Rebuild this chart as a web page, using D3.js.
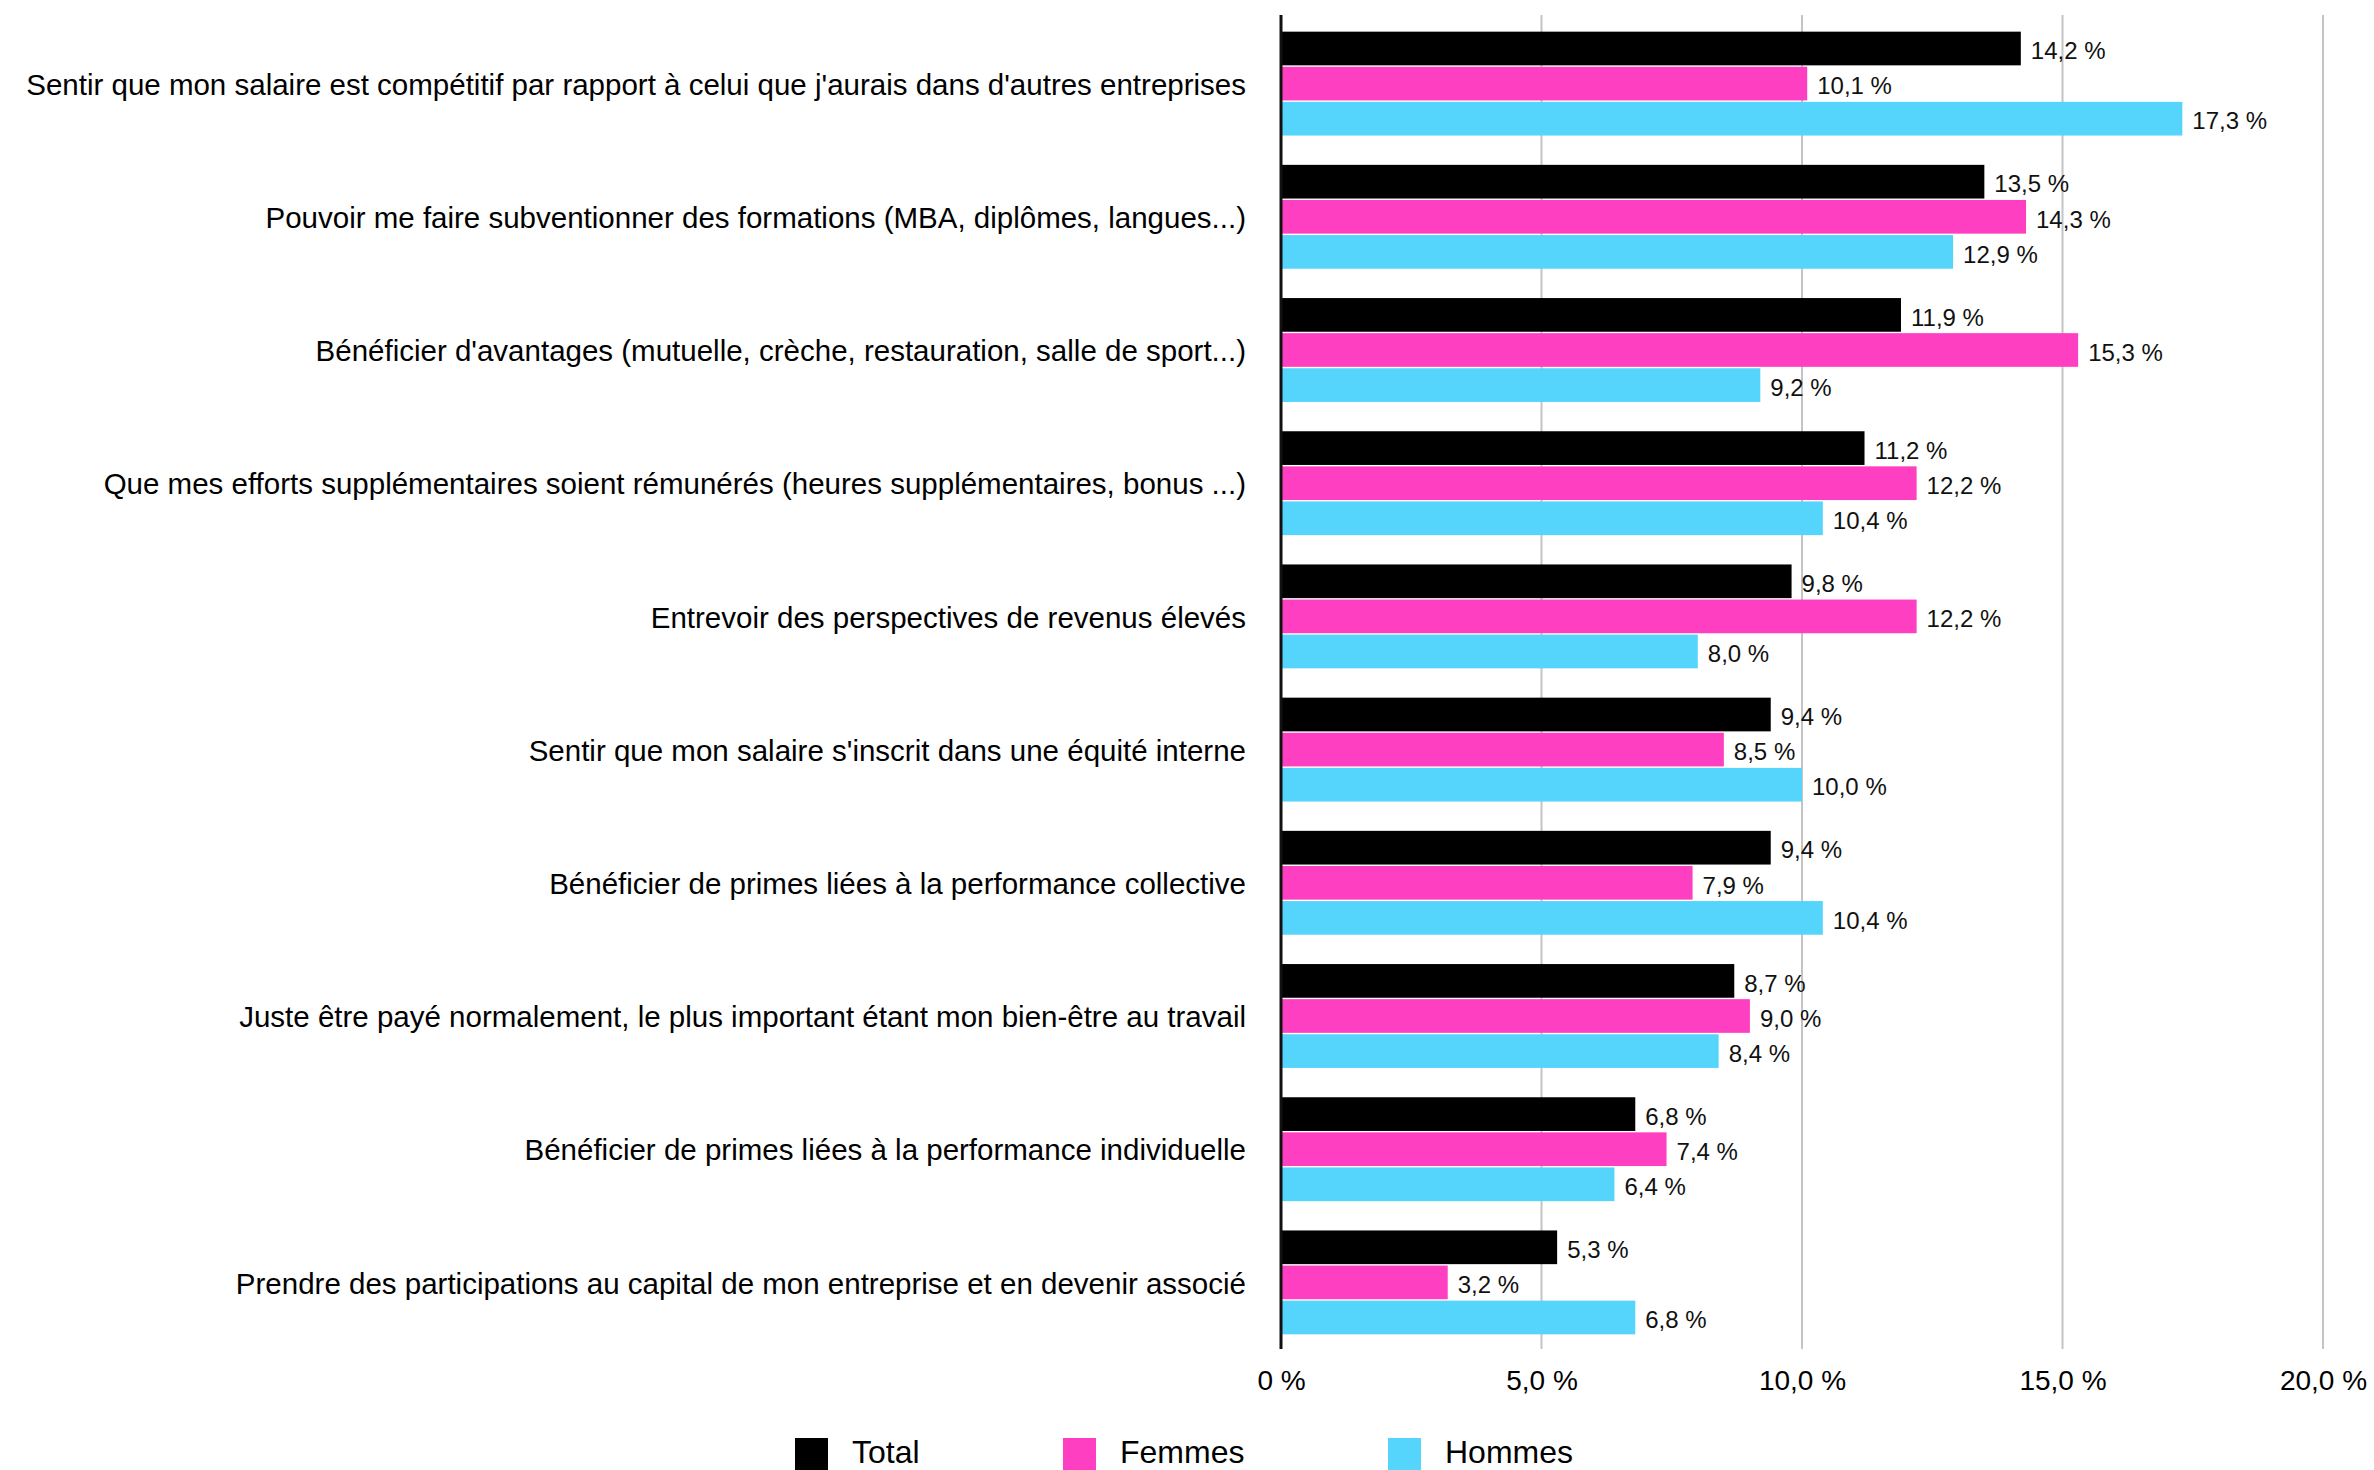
<!DOCTYPE html>
<html><head><meta charset="utf-8">
<script src="https://cdn.jsdelivr.net/npm/d3@7"></script>
<style>html,body{margin:0;padding:0;background:#fff;overflow:hidden}svg{display:block;font-family:"Liberation Sans",Arial,Helvetica,sans-serif}</style>
</head><body>
<svg id="chart" width="2374" height="1470"></svg>
<script>
const categories = [
  "Sentir que mon salaire est compétitif par rapport à celui que j'aurais dans d'autres entreprises",
  "Pouvoir me faire subventionner des formations (MBA, diplômes, langues...)",
  "Bénéficier d'avantages (mutuelle, crèche, restauration, salle de sport...)",
  "Que mes efforts supplémentaires soient rémunérés (heures supplémentaires, bonus ...)",
  "Entrevoir des perspectives de revenus élevés",
  "Sentir que mon salaire s'inscrit dans une équité interne",
  "Bénéficier de primes liées à la performance collective",
  "Juste être payé normalement, le plus important étant mon bien-être au travail",
  "Bénéficier de primes liées à la performance individuelle",
  "Prendre des participations au capital de mon entreprise et en devenir associé"
];
const seriesNames = ["Total", "Femmes", "Hommes"];
const total  = [14.2, 13.5, 11.9, 11.2, 9.8, 9.4, 9.4, 8.7, 6.8, 5.3];
const femmes = [10.1, 14.3, 15.3, 12.2, 12.2, 8.5, 7.9, 9.0, 7.4, 3.2];
const hommes = [17.3, 12.9, 9.2, 10.4, 8.0, 10.0, 10.4, 8.4, 6.4, 6.8];
const tickValues = [0, 5, 10, 15, 20];
const colors = ["#000000", "#FF3FC2", "#56D5FC"];

const seriesValues = [total, femmes, hommes];
const svg = d3.select("#chart");
const x0 = 1281, x1 = 2323, yTop = 15, yBot = 1349;

const x = d3.scaleLinear().domain([0, 20]).range([x0, x1]);
const y = d3.scaleBand().domain(categories).range([yTop + 2, yBot]).paddingInner(0.22).paddingOuter(0.11);
const ySub = d3.scaleBand().domain(seriesNames).range([0, y.bandwidth()]).paddingInner(0.04);

const fmt = v => v === 0 ? "0 %" : d3.format(".1f")(v).replace(".", ",") + " %";

// grid
svg.append("g").selectAll("line").data(tickValues.filter(t => t > 0)).join("line")
  .attr("x1", d => x(d)).attr("x2", d => x(d))
  .attr("y1", yTop).attr("y2", yBot)
  .attr("stroke", "#c4c4c4").attr("stroke-width", 2);

// axis ticks via d3 axis
const axis = d3.axisBottom(x).tickValues(tickValues).tickFormat(fmt).tickSize(0).tickPadding(0);
const ax = svg.append("g").attr("transform", `translate(0,${yBot})`).call(axis);
ax.select(".domain").remove();
ax.selectAll("text").attr("font-size", 28).attr("fill", "#000")
  .attr("font-family", "Liberation Sans, Arial, sans-serif")
  .attr("y", 41).attr("dy", 0);

// bars
const groups = svg.append("g").selectAll("g").data(categories).join("g")
  .attr("transform", d => `translate(0,${y(d)})`);
groups.each(function(cat, i) {
  const g = d3.select(this);
  seriesNames.forEach((s, j) => {
    const v = seriesValues[j][i];
    g.append("rect").attr("x", x(0)).attr("y", ySub(s))
      .attr("width", x(v) - x(0)).attr("height", ySub.bandwidth())
      .attr("fill", colors[j]);
    g.append("text").attr("x", x(v) + 10).attr("y", ySub(s) + ySub.bandwidth() / 2)
      .attr("dy", "0.45em").attr("font-size", 24).attr("fill", "#111").text(fmt(v));
  });
});

// category labels
svg.append("g").selectAll("text").data(categories).join("text")
  .attr("x", x0 - 35).attr("y", d => y(d) + y.bandwidth() / 2)
  .attr("dy", "0.38em").attr("text-anchor", "end")
  .attr("font-size", 29.5).attr("fill", "#000").text(d => d);

// axis line
svg.append("line").attr("x1", x0).attr("x2", x0).attr("y1", yTop).attr("y2", yBot)
  .attr("stroke", "#111").attr("stroke-width", 3);

// legend
const legendX = [795, 1063, 1388];
const lg = svg.append("g").selectAll("g").data(seriesNames).join("g")
  .attr("transform", (d, i) => `translate(${legendX[i]},1438)`);
lg.append("rect").attr("width", 33).attr("height", 33).attr("fill", (d, i) => colors[i]);
lg.append("text").attr("x", 57).attr("y", 25).attr("font-size", 32).attr("fill", "#000").text(d => d);
</script>
</body></html>
